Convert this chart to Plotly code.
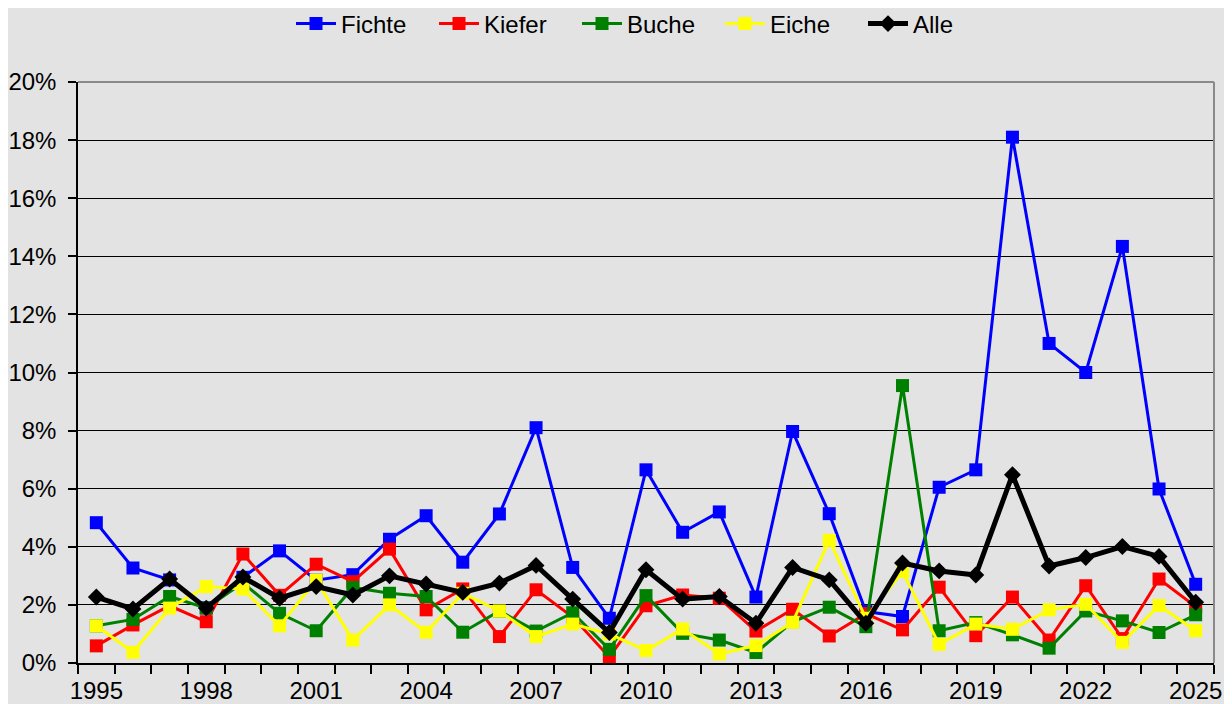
import plotly.graph_objects as go

years = list(range(1995, 2026))

fichte = [4.83, 3.27, 2.86, 1.9, 2.95, 3.86, 2.85, 3.04, 4.26, 5.07, 3.47, 5.13, 8.1, 3.29, 1.54,
          6.65, 4.5, 5.2, 2.27, 7.97, 5.14, 1.77, 1.6, 6.05, 6.65, 18.1, 11.0, 10.0, 14.34, 5.99, 2.71]
kiefer = [0.59, 1.31, 1.97, 1.42, 3.75, 2.33, 3.4, 2.8, 3.92, 1.83, 2.55, 0.91, 2.52, 1.58, 0.2,
          1.97, 2.34, 2.23, 1.1, 1.85, 0.93, 1.7, 1.14, 2.61, 0.94, 2.27, 0.79, 2.66, 0.84, 2.89, 1.94]
buche = [1.28, 1.5, 2.29, 1.89, 2.76, 1.71, 1.11, 2.6, 2.4, 2.29, 1.06, 1.79, 1.1, 1.73, 0.47,
         2.32, 1.02, 0.79, 0.36, 1.42, 1.92, 1.25, 9.55, 1.11, 1.39, 0.97, 0.51, 1.79, 1.45, 1.05, 1.66]
eiche = [1.28, 0.37, 1.89, 2.63, 2.55, 1.28, 2.85, 0.79, 2.0, 1.06, 2.4, 1.79, 0.91, 1.34, 1.0,
         0.43, 1.17, 0.31, 0.6, 1.4, 4.22, 1.54, 3.15, 0.64, 1.34, 1.16, 1.83, 2.02, 0.71, 1.98, 1.11]
alle = [2.27, 1.86, 2.89, 1.89, 2.96, 2.23, 2.63, 2.34, 3.0, 2.72, 2.43, 2.75, 3.36, 2.2, 1.05,
        3.21, 2.2, 2.29, 1.37, 3.29, 2.86, 1.37, 3.44, 3.17, 3.03, 6.48, 3.34, 3.63, 4.01, 3.67, 2.09]

series = [
    ("Fichte", fichte, "#0000FF", "square", 13, 3),
    ("Kiefer", kiefer, "#FF0000", "square", 13, 3),
    ("Buche", buche, "#008000", "square", 13, 3),
    ("Eiche", eiche, "#FFFF00", "square", 13, 3),
    ("Alle", alle, "#000000", "diamond", 13, 5),
]

x_labels = years[::3]
y_ticks = list(range(0, 21, 2))
y_labels = [f"{v}%" for v in y_ticks]

BG = "#E3E3E3"
BORDER = "#8A8A8A"
FONT = "Liberation Sans, Arial, sans-serif"
FS = 24

# the page body adds an 8px offset; the figure is sized to fit the window
W, H = 1224, 696
ML, MR, MT, MB = 70, 18, 74, 41
PLOT_H = H - MT - MB

fig = go.Figure()
for name, vals, color, sym, msize, lw in series:
    fig.add_trace(go.Scatter(
        x=years, y=vals, name=name, mode="lines+markers",
        line=dict(color=color, width=lw),
        marker=dict(symbol=sym, size=msize, color=color, line=dict(width=0)),
    ))

fig.update_layout(
    width=W, height=H,
    paper_bgcolor=BG, plot_bgcolor=BG,
    margin=dict(l=ML, r=MR, t=MT, b=MB, autoexpand=False),
    font=dict(family=FONT, size=FS, color="#000000"),
    showlegend=True,
    legend=dict(orientation="h", xref="container", yref="paper",
                x=283 / W, xanchor="left", y=1 + (MT - 16) / PLOT_H, yanchor="middle",
                font=dict(size=FS), bgcolor="rgba(0,0,0,0)", itemwidth=40,
                entrywidth=88, entrywidthmode="pixels", tracegroupgap=0),
    shapes=[
        dict(type="line", xref="paper", yref="paper", x0=0, x1=1, y0=1, y1=1,
             line=dict(color=BORDER, width=2), layer="above"),
        dict(type="line", xref="paper", yref="paper", x0=1, x1=1, y0=0, y1=1,
             line=dict(color=BORDER, width=2), layer="above"),
    ],
)

fig.update_xaxes(
    range=[years[0] - 0.5, years[-1] + 0.5], automargin=False,
    tickmode="array", tickvals=x_labels, ticktext=[str(v) for v in x_labels],
    ticks="outside", ticklen=5, tickcolor="rgba(0,0,0,0)",
    showgrid=False, zeroline=False,
    showline=True, linecolor="#000000", linewidth=1.5,
    minor=dict(tickmode="linear", tick0=years[0] - 0.5, dtick=1, ticks="outside",
               ticklen=9, tickcolor="#000000", tickwidth=1.5, showgrid=False),
)
fig.update_yaxes(
    range=[0, 20], automargin=False,
    tickmode="array", tickvals=y_ticks, ticktext=y_labels,
    ticks="outside", ticklen=8, tickcolor="#000000", tickwidth=1.5,
    showgrid=True, gridcolor="#000000", gridwidth=1.2, zeroline=False,
    showline=True, linecolor="#000000", linewidth=1.5,
    ticklabelstandoff=7,
)

fig.write_html("out.html")
